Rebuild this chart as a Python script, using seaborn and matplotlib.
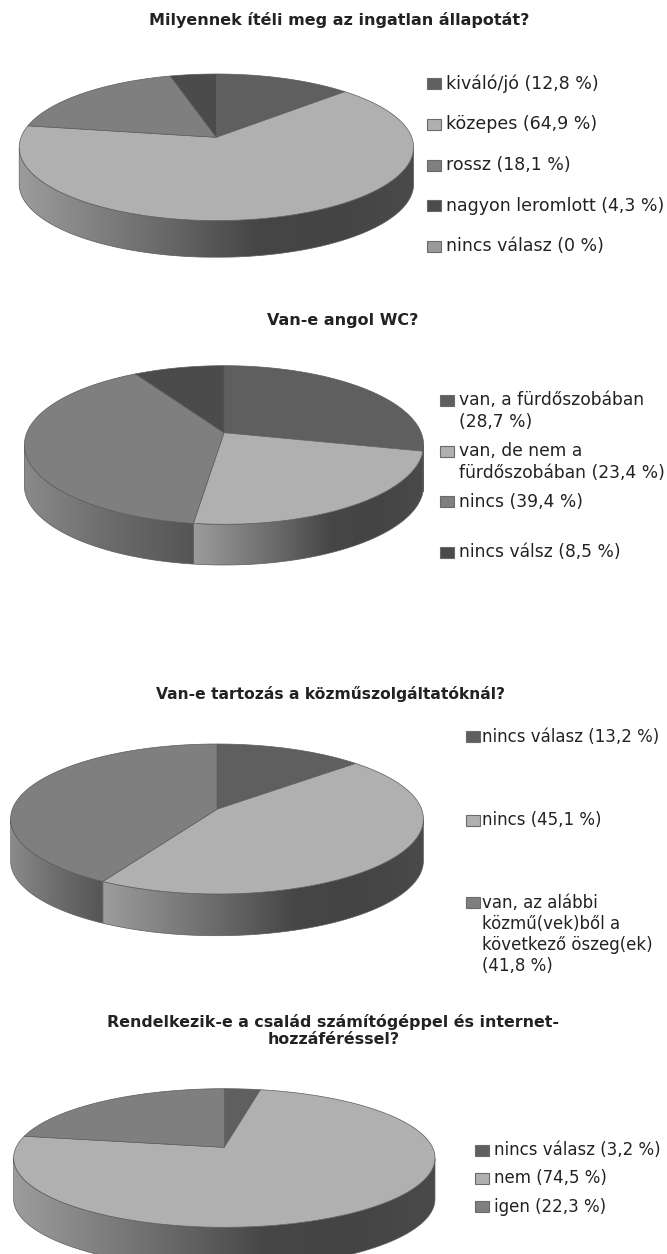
import numpy as np
import matplotlib
matplotlib.use("Agg")
import matplotlib.pyplot as plt
from matplotlib.patches import Polygon, Rectangle
import seaborn as sns

# --- data ---
titles = [
    "Milyennek ítéli meg az ingatlan állapotát?",
    "Van-e angol WC?",
    "Van-e tartozás a közműszolgáltatóknál?",
    "Rendelkezik-e a család számítógéppel és internet-\nhozzáféréssel?",
]
values_1 = [12.8, 64.9, 18.1, 4.3, 0]
values_2 = [28.7, 23.4, 39.4, 8.5]
values_3 = [13.2, 45.1, 41.8]
values_4 = [3.2, 74.5, 22.3]

labels_1 = ["kiváló/jó (12,8 %)", "közepes (64,9 %)", "rossz (18,1 %)",
            "nagyon leromlott (4,3 %)", "nincs válasz (0 %)"]
labels_2 = ["van, a fürdőszobában\n(28,7 %)", "van, de nem a\nfürdőszobában (23,4 %)",
            "nincs (39,4 %)", "nincs válsz (8,5 %)"]
labels_3 = ["nincs válasz (13,2 %)", "nincs (45,1 %)",
            "van, az alábbi\nközmű(vek)ből a\nkövetkező öszeg(ek)\n(41,8 %)"]
labels_4 = ["nincs válasz (3,2 %)", "nem (74,5 %)", "igen (22,3 %)"]

# --- layout in pixels ---
W, H = 667, 1254
layouts = [
    dict(cx=216.4, cy=147.3, rx=197.2, ry=73.3, depth=36.7, tilt=0.136,
         title_x=339, title_y=[20], title_size=11.5, sw_x=427, txt_x=445.5, txt_size=12.5, line=21,
         leg_y=[83.3, 124, 165, 205.7, 246]),
    dict(cx=224, cy=445, rx=199.6, ry=79.3, depth=40.7, tilt=0.155,
         title_x=343, title_y=[320.7], title_size=11.5, sw_x=440, txt_x=458.7, txt_size=12.3, line=22.3,
         leg_y=[400, 451, 501.7, 552.3]),
    dict(cx=217, cy=819, rx=206.4, ry=75, depth=41.7, tilt=0.13,
         title_x=330.6, title_y=[694], title_size=11.2, sw_x=466, txt_x=481.7, txt_size=12.0, line=21,
         leg_y=[736.7, 820, 902.7]),
    dict(cx=224.3, cy=1158, rx=210.7, ry=69.3, depth=41, tilt=0.154,
         title_x=333.4, title_y=[1021.7, 1040], title_size=11.4, sw_x=475, txt_x=493.6, txt_size=12.0, line=21,
         leg_y=[1150, 1178.3, 1206.7]),
]

sns.set_theme(style="white")
plt.rcParams["font.family"] = ["DejaVu Sans"]

slice_colors = sns.color_palette(["#5f5f5f", "#b0b0b0", "#7f7f7f", "#4b4b4b", "#999999"])
wall_colors = [
    ["#5a5a5a", "#444444"],
    ["#9c9c9c", "#808080", "#646464", "#464646", "#444444", "#4a4a4a"],
    ["#8a8a8a", "#6c6c6c", "#555555"],
    ["#505050", "#404040"],
    ["#999999", "#555555"],
]
edge_color = "#5c5c5c"
text_color = "#222222"


def rim_points(theta, lay):
    # a tilted disc seen in perspective: the centre sits above the middle of the ellipse
    a = lay["tilt"]
    X, Y = np.sin(theta), np.cos(theta)
    d = 1 + a * Y
    x = X * np.sqrt(1 - a ** 2) / d
    y = (Y + a) / d
    return lay["cx"] + lay["rx"] * x, lay["cy"] - lay["ry"] * y, y


def draw_pie(ax, values, lay):
    total = sum(values)
    edges = np.concatenate([[0], np.cumsum(values)]) / total * 2 * np.pi
    apex = (lay["cx"], lay["cy"] - lay["ry"] * lay["tilt"])

    # side wall first
    for i, v in enumerate(values):
        if v == 0:
            continue
        t = np.linspace(edges[i], edges[i + 1], 300)
        x, y, up = rim_points(t, lay)
        front = up <= 0
        if front.sum() < 2:
            continue
        x, y = x[front], y[front]
        wall = np.column_stack([np.r_[x, x[::-1]], np.r_[y, y[::-1] + lay["depth"]]])
        patch = Polygon(wall, closed=True, facecolor="none", edgecolor=edge_color, lw=0.5, zorder=2)
        ax.add_patch(patch)
        cmap = sns.blend_palette(wall_colors[i], as_cmap=True)
        img = ax.imshow(np.linspace(0, 1, 256)[None, :], cmap=cmap, aspect="auto", zorder=1,
                        extent=[x.min(), x.max(), y.max() + lay["depth"], y.min()])
        img.set_clip_path(patch)

    # top of the disc
    for i, v in enumerate(values):
        if v == 0:
            continue
        t = np.linspace(edges[i], edges[i + 1], 300)
        x, y, _ = rim_points(t, lay)
        top = np.column_stack([np.r_[apex[0], x], np.r_[apex[1], y]])
        ax.add_patch(Polygon(top, closed=True, facecolor=slice_colors[i],
                             edgecolor=edge_color, lw=0.5, zorder=3))


def draw_legend(ax, labels, lay):
    for i, (label, ly) in enumerate(zip(labels, lay["leg_y"])):
        ax.add_patch(Rectangle((lay["sw_x"], ly - 5.5), 14, 11, facecolor=slice_colors[i],
                               edgecolor="#6a6a6a", lw=0.8, zorder=3))
        for j, part in enumerate(label.split("\n")):
            ax.text(lay["txt_x"], ly + j * lay["line"], part, fontsize=lay["txt_size"],
                    color=text_color, va="center", ha="left")


fig = plt.figure(figsize=(W / 100, H / 100), dpi=100, facecolor="white")
ax = fig.add_axes([0, 0, 1, 1])

all_values = [values_1, values_2, values_3, values_4]
all_labels = [labels_1, labels_2, labels_3, labels_4]

for title, values, labels, lay in zip(titles, all_values, all_labels, layouts):
    draw_pie(ax, values, lay)
    draw_legend(ax, labels, lay)
    for part, ty in zip(title.split("\n"), lay["title_y"]):
        ax.text(lay["title_x"], ty, part, fontsize=lay["title_size"], fontweight="bold",
                color=text_color, ha="center", va="center")

ax.set_xlim(0, W)
ax.set_ylim(H, 0)
ax.axis("off")

fig.savefig("out.png", dpi=100, facecolor="white")
